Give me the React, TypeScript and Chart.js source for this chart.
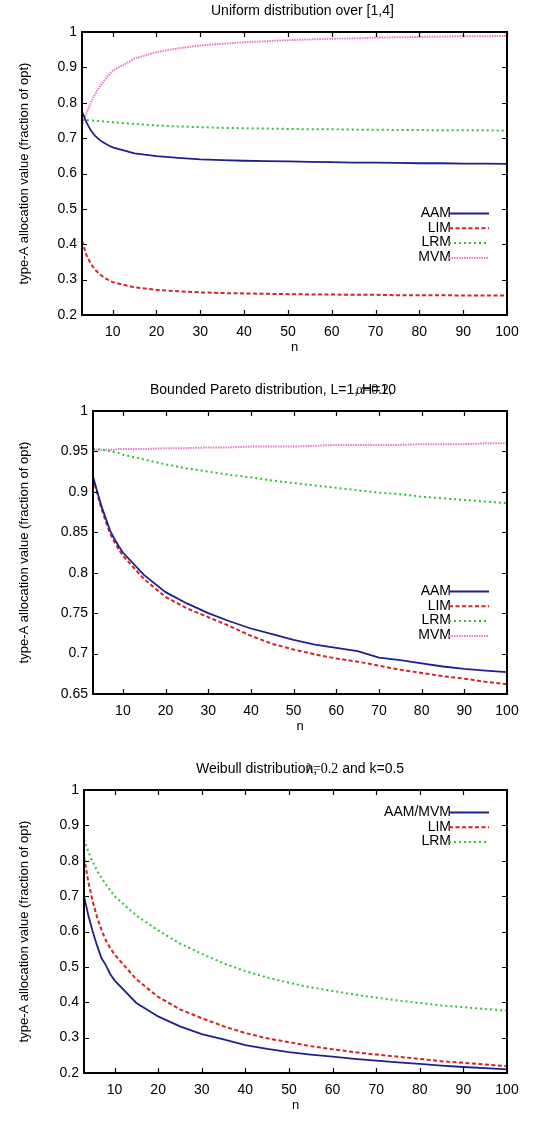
import React, { useEffect, useRef } from 'react';
import { Chart, registerables } from 'chart.js';
Chart.register(...registerables);

const nValues = [3, 4, 5, 6, 7, 8, 9, 10, 15, 20, 25, 30, 35, 40, 45, 50, 55, 60, 65, 70, 75, 80, 85, 90, 95, 100];
const xTicks = [10, 20, 30, 40, 50, 60, 70, 80, 90, 100];

// Chart 1: Uniform distribution over [1,4]
const uniformAAM = [0.775, 0.745, 0.722, 0.706, 0.695, 0.687, 0.68, 0.674, 0.657, 0.649, 0.644, 0.64, 0.638, 0.636, 0.635, 0.634, 0.633, 0.632, 0.631, 0.631, 0.63, 0.629, 0.629, 0.628, 0.628, 0.627];
const uniformLIM = [0.41, 0.37, 0.345, 0.328, 0.316, 0.306, 0.299, 0.293, 0.278, 0.271, 0.267, 0.264, 0.262, 0.261, 0.26, 0.259, 0.258, 0.258, 0.257, 0.257, 0.256, 0.256, 0.256, 0.255, 0.255, 0.255];
const uniformLRM = [0.752, 0.751, 0.75, 0.749, 0.748, 0.747, 0.746, 0.745, 0.74, 0.736, 0.733, 0.731, 0.729, 0.728, 0.727, 0.726, 0.725, 0.725, 0.724, 0.724, 0.723, 0.723, 0.722, 0.722, 0.722, 0.721];
const uniformMVM = [0.735, 0.77, 0.8, 0.825, 0.845, 0.862, 0.877, 0.89, 0.925, 0.943, 0.954, 0.962, 0.967, 0.971, 0.974, 0.977, 0.979, 0.981, 0.982, 0.984, 0.985, 0.986, 0.987, 0.988, 0.988, 0.989];
const uniformYTicks = [0.2, 0.3, 0.4, 0.5, 0.6, 0.7, 0.8, 0.9, 1];

// Chart 2: Bounded Pareto distribution
const paretoAAM = [0.919, 0.9, 0.882, 0.867, 0.852, 0.842, 0.833, 0.825, 0.797, 0.776, 0.762, 0.75, 0.74, 0.731, 0.724, 0.717, 0.711, 0.707, 0.703, 0.695, 0.692, 0.688, 0.684, 0.681, 0.679, 0.677];
const paretoLIM = [0.917, 0.898, 0.879, 0.863, 0.849, 0.838, 0.829, 0.821, 0.792, 0.77, 0.756, 0.745, 0.734, 0.722, 0.712, 0.705, 0.699, 0.694, 0.69, 0.685, 0.68, 0.676, 0.672, 0.669, 0.665, 0.662];
const paretoLRM = [0.953, 0.953, 0.952, 0.951, 0.95, 0.949, 0.948, 0.946, 0.94, 0.934, 0.929, 0.925, 0.921, 0.918, 0.914, 0.911, 0.908, 0.905, 0.902, 0.899, 0.897, 0.894, 0.892, 0.89, 0.888, 0.886];
const paretoMVM = [0.952, 0.952, 0.952, 0.952, 0.952, 0.952, 0.953, 0.953, 0.953, 0.954, 0.954, 0.955, 0.955, 0.956, 0.956, 0.956, 0.957, 0.958, 0.958, 0.958, 0.958, 0.959, 0.959, 0.959, 0.96, 0.96];
const paretoYTicks = [0.65, 0.7, 0.75, 0.8, 0.85, 0.9, 0.95, 1];

// Chart 3: Weibull distribution
const weibullAAMMVM = [0.7, 0.645, 0.6, 0.56, 0.525, 0.505, 0.48, 0.462, 0.398, 0.36, 0.332, 0.31, 0.295, 0.279, 0.268, 0.259, 0.252, 0.246, 0.24, 0.235, 0.23, 0.226, 0.221, 0.217, 0.214, 0.21];
const weibullLIM = [0.81, 0.74, 0.685, 0.64, 0.605, 0.575, 0.553, 0.535, 0.465, 0.415, 0.38, 0.355, 0.332, 0.313, 0.298, 0.287, 0.276, 0.267, 0.259, 0.252, 0.246, 0.24, 0.233, 0.229, 0.224, 0.219];
const weibullLRM = [0.86, 0.825, 0.797, 0.772, 0.752, 0.733, 0.716, 0.7, 0.645, 0.603, 0.566, 0.537, 0.51, 0.488, 0.47, 0.455, 0.442, 0.432, 0.422, 0.413, 0.405, 0.398, 0.391, 0.386, 0.381, 0.376];
const weibullYTicks = [0.2, 0.3, 0.4, 0.5, 0.6, 0.7, 0.8, 0.9, 1];

const SANS = "'Liberation Sans', Arial, Helvetica, sans-serif";
const SERIF = "'Liberation Serif', 'DejaVu Serif', serif";
const Y_TITLE = 'type-A allocation value (fraction of opt)';

const STYLES: Record<string, { color: string; dash: number[]; width: number }> = {
  AAM: { color: '#1f1f8f', dash: [], width: 1.8 },
  LIM: { color: '#d42424', dash: [4, 2.5], width: 2 },
  LRM: { color: '#2fc42f', dash: [2, 3], width: 2 },
  MVM: { color: '#e878c8', dash: [1.5, 1], width: 2 },
};

function ds(label: string, style: string, data: number[]) {
  const s = STYLES[style];
  return {
    label,
    data: nValues.map((n, i) => ({ x: n, y: data[i] })),
    borderColor: s.color,
    borderDash: s.dash,
    borderWidth: s.width,
    pointRadius: 0,
    fill: false,
    tension: 0,
  };
}

const framePlugin = {
  id: 'gpFrame',
  afterDatasetsDraw(chart: any) {
    const { ctx, chartArea: a, scales } = chart;
    ctx.save();
    ctx.setLineDash([]);
    ctx.strokeStyle = '#000';
    ctx.lineWidth = 1.2;
    const tl = 5;
    ctx.beginPath();
    for (const t of scales.x.ticks) {
      const px = Math.round(scales.x.getPixelForValue(t.value)) + 0.5;
      ctx.moveTo(px, a.bottom); ctx.lineTo(px, a.bottom - tl);
      ctx.moveTo(px, a.top); ctx.lineTo(px, a.top + tl);
    }
    for (const t of scales.y.ticks) {
      const py = Math.round(scales.y.getPixelForValue(t.value)) + 0.5;
      ctx.moveTo(a.left, py); ctx.lineTo(a.left + tl, py);
      ctx.moveTo(a.right, py); ctx.lineTo(a.right - tl, py);
    }
    ctx.stroke();
    ctx.lineWidth = 2;
    ctx.strokeRect(a.left, a.top, a.right - a.left, a.bottom - a.top);
    ctx.restore();
  },
};

const legendPlugin = {
  id: 'gpLegend',
  afterDatasetsDraw(chart: any, _args: any, opts: any) {
    const { ctx } = chart;
    ctx.save();
    ctx.font = `14px ${SANS}`;
    ctx.textAlign = 'right';
    ctx.textBaseline = 'middle';
    chart.data.datasets.forEach((d: any, i: number) => {
      const y = opts.y0 + i * opts.dy;
      ctx.fillStyle = '#000';
      ctx.fillText(d.label, opts.textRight, y);
      ctx.strokeStyle = d.borderColor;
      ctx.lineWidth = d.borderWidth;
      ctx.setLineDash(d.borderDash || []);
      ctx.beginPath();
      ctx.moveTo(opts.lineStart, y + 0.5);
      ctx.lineTo(opts.lineEnd, y + 0.5);
      ctx.stroke();
    });
    ctx.restore();
  },
};

// Title parts are chained: each part starts at the previous part's end plus dx
// (the first part starts at x). Overlaps reproduce the reference's garbled titles.
const titlePlugin = {
  id: 'gpTitle',
  afterDraw(chart: any, _args: any, opts: any) {
    const { ctx } = chart;
    ctx.save();
    ctx.fillStyle = '#000';
    ctx.textBaseline = 'middle';
    ctx.textAlign = 'left';
    let cur = opts.x;
    for (const p of opts.parts) {
      ctx.font = `${p.size || 14}px ${p.serif ? SERIF : SANS}`;
      const x = cur + (p.dx || 0);
      ctx.fillText(p.text, x, opts.y + (p.dy || 0));
      cur = x + ctx.measureText(p.text).width;
    }
    ctx.restore();
  },
};

type Spec = {
  height: number;
  datasets: any[];
  yMin: number;
  yMax: number;
  yTicks: number[];
  plotLeft: number;
  legendY0: number;
  titleX: number;
  titleParts: any[];
};

function LineChart({ spec }: { spec: Spec }) {
  const ref = useRef<HTMLCanvasElement>(null);
  useEffect(() => {
    if (!ref.current) return;
    const plotTop = 32;
    const plotBottom = 315;
    const xAxisH = 52;
    const chart = new Chart(ref.current, {
      type: 'line',
      data: { datasets: spec.datasets },
      plugins: [framePlugin, legendPlugin, titlePlugin],
      options: {
        animation: false,
        responsive: false,
        devicePixelRatio: 1,
        layout: { padding: { top: plotTop, right: 31, left: 0, bottom: spec.height - plotBottom - xAxisH } },
        plugins: {
          legend: { display: false },
          title: { display: false },
          tooltip: { enabled: false },
          gpLegend: { y0: spec.legendY0, dy: 14.8, textRight: 451, lineStart: 449, lineEnd: 489 },
          gpTitle: { y: 11, x: spec.titleX, parts: spec.titleParts },
        } as any,
        scales: {
          x: {
            type: 'linear',
            min: 3,
            max: 100,
            grid: { display: false, drawTicks: false },
            border: { display: false },
            afterBuildTicks: (s: any) => { s.ticks = xTicks.map((v) => ({ value: v })); },
            afterFit: (s: any) => { s.height = xAxisH; },
            ticks: { color: '#000', font: { family: SANS, size: 14 }, padding: 9, maxRotation: 0, autoSkip: false },
            title: { display: true, text: 'n', color: '#000', font: { family: SANS, size: 13 }, padding: { top: 0, bottom: 12 } },
          },
          y: {
            type: 'linear',
            min: spec.yMin,
            max: spec.yMax,
            grid: { display: false, drawTicks: false },
            border: { display: false },
            afterBuildTicks: (s: any) => { s.ticks = spec.yTicks.map((v) => ({ value: v })); },
            afterFit: (s: any) => { s.width = spec.plotLeft; },
            ticks: {
              color: '#000',
              font: { family: SANS, size: 14 },
              padding: 5,
              autoSkip: false,
              callback: (v: any) => String(Math.round(Number(v) * 100) / 100),
            },
            title: { display: true, text: Y_TITLE, color: '#000', font: { family: SANS, size: 13 }, padding: { top: 17, bottom: 0 } },
          },
        },
      } as any,
    });
    return () => chart.destroy();
  }, [spec]);
  return <canvas ref={ref} width={538} height={spec.height} style={{ display: 'block', width: 538, height: spec.height }} />;
}

const specs: Spec[] = [
  {
    height: 379,
    datasets: [ds('AAM', 'AAM', uniformAAM), ds('LIM', 'LIM', uniformLIM), ds('LRM', 'LRM', uniformLRM), ds('MVM', 'MVM', uniformMVM)],
    yMin: 0.2, yMax: 1, yTicks: uniformYTicks, plotLeft: 82, legendY0: 213,
    titleX: 211,
    titleParts: [{ text: 'Uniform distribution over [1,4]' }],
  },
  {
    height: 379,
    datasets: [ds('AAM', 'AAM', paretoAAM), ds('LIM', 'LIM', paretoLIM), ds('LRM', 'LRM', paretoLRM), ds('MVM', 'MVM', paretoMVM)],
    yMin: 0.65, yMax: 1, yTicks: paretoYTicks, plotLeft: 93, legendY0: 212,
    titleX: 150,
    titleParts: [
      { text: 'Bounded Pareto distribution, L=' },
      { text: '1, H=10', dx: 0 },
      { text: 'α=0.2,', serif: true, dx: -40 },
    ],
  },
  {
    height: 363,
    datasets: [ds('AAM/MVM', 'AAM', weibullAAMMVM), ds('LIM', 'LIM', weibullLIM), ds('LRM', 'LRM', weibullLRM)],
    yMin: 0.2, yMax: 1, yTicks: weibullYTicks, plotLeft: 84, legendY0: 54,
    titleX: 196,
    titleParts: [
      { text: 'Weibull distribution,' },
      { text: 'λ=0.2', serif: true, dx: -11 },
      { text: ' and k=0.5', dx: 0 },
    ],
  },
];

export default function App() {
  return (
    <div style={{ position: 'absolute', left: 0, top: 0, width: 538, height: 1121, background: '#fff' }}>
      {specs.map((s, i) => (
        <LineChart key={i} spec={s} />
      ))}
    </div>
  );
}
